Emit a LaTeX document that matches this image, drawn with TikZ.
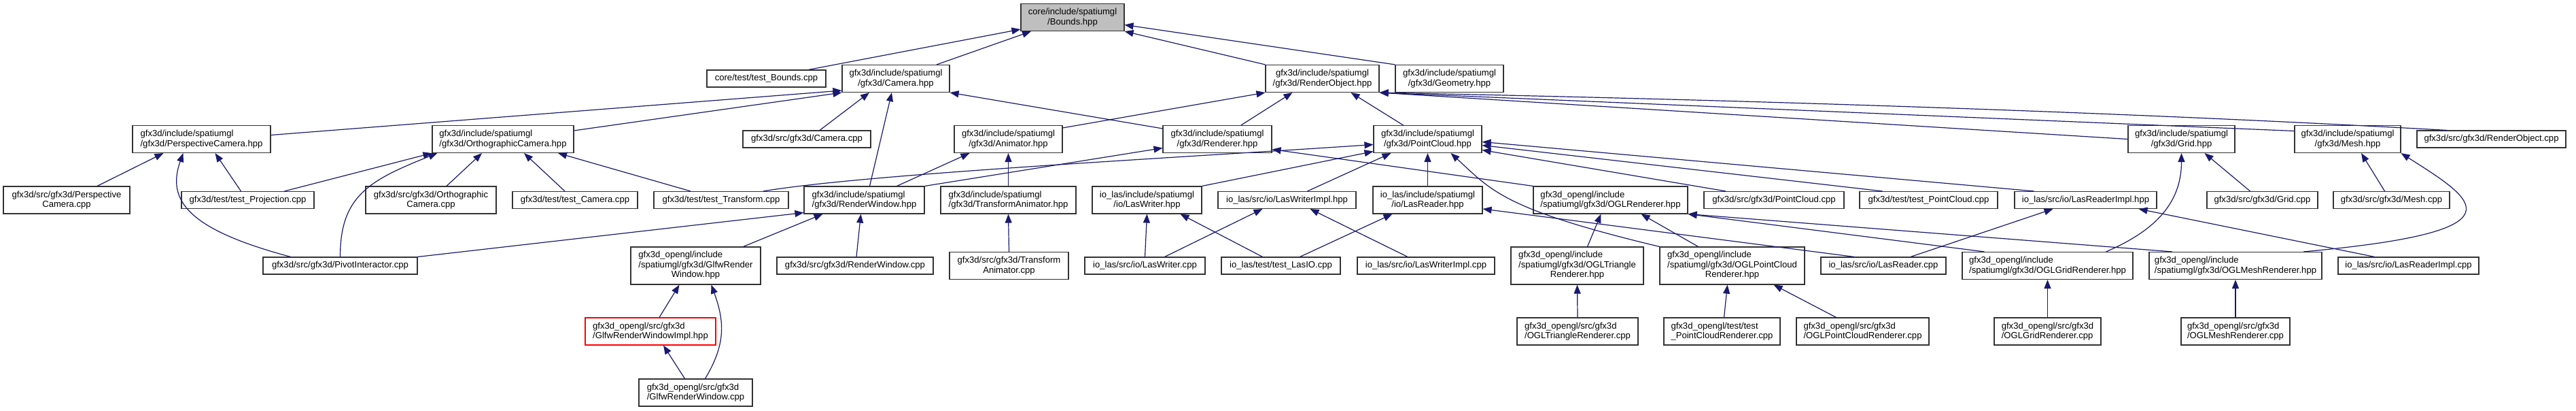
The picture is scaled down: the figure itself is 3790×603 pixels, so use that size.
\documentclass[tikz,border=0pt]{standalone}
\usepackage{fontspec}
\setmainfont{Liberation Sans}
\usepackage{tikz}
\usetikzlibrary{arrows.meta}
\definecolor{edgeblue}{HTML}{191970}
\definecolor{rootgray}{HTML}{BFBFBF}
\newcommand{\threeline}[3]{\begin{tabular}{@{}l@{}}#1\\#2\\\multicolumn{1}{@{}c@{}}{#3}\end{tabular}}

\begin{document}
\begin{tikzpicture}[x=1pt, y=-1pt,
  file/.style={draw=black!80, line width=1.1pt, fill=white, inner sep=0pt, minimum height=25pt, align=center, font=\fontsize{13.1}{14.5}\selectfont},
  tall/.style={minimum height=40pt},
  taller/.style={minimum height=55pt},
  lft/.style={align=left},
  dep/.style={edgeblue, line width=1.2pt, -{Triangle[length=13pt, width=10pt]}}]
\useasboundingbox (0,0) rectangle (3790,603);
% root
\node[file, tall, fill=rootgray, minimum width=152pt] (bounds) at (1578,25.5) {core/include/spatiumgl\\/Bounds.hpp};
% first level
\node[file, minimum width=175pt] (testbounds) at (1127.5,115.5) {core/test/test\_Bounds.cpp};
\node[file, tall, minimum width=158pt] (camH) at (1318,115.5) {gfx3d/include/spatiumgl\\/gfx3d/Camera.hpp};
\node[file, tall, minimum width=167pt] (robjH) at (1945.5,115.5) {gfx3d/include/spatiumgl\\/gfx3d/RenderObject.hpp};
\node[file, tall, minimum width=159pt] (geomH) at (2132.5,115.5) {gfx3d/include/spatiumgl\\/gfx3d/Geometry.hpp};
% second level
\node[file, tall, lft, minimum width=203pt] (perspH) at (296.5,204.5) {gfx3d/include/spatiumgl\\/gfx3d/PerspectiveCamera.hpp};
\node[file, tall, lft, minimum width=208pt] (orthoH) at (740,204.5) {gfx3d/include/spatiumgl\\/gfx3d/OrthographicCamera.hpp};
\node[file, minimum width=188pt] (camcpp) at (1187,204.5) {gfx3d/src/gfx3d/Camera.cpp};
\node[file, tall, minimum width=159pt] (animH) at (1483.5,204.5) {gfx3d/include/spatiumgl\\/gfx3d/Animator.hpp};
\node[file, tall, minimum width=160pt] (rendH) at (1791,204.5) {gfx3d/include/spatiumgl\\/gfx3d/Renderer.hpp};
\node[file, tall, minimum width=159pt] (pcH) at (2100.5,204.5) {gfx3d/include/spatiumgl\\/gfx3d/PointCloud.hpp};
\node[file, tall, minimum width=157pt] (gridH) at (3209.5,204.5) {gfx3d/include/spatiumgl\\/gfx3d/Grid.hpp};
\node[file, tall, minimum width=156pt] (meshH) at (3454,204.5) {gfx3d/include/spatiumgl\\/gfx3d/Mesh.hpp};
\node[file, minimum width=219pt] (robjcpp) at (3665.5,204.5) {gfx3d/src/gfx3d/RenderObject.cpp};
% third level
\node[file, tall, minimum width=186pt] (perspcpp) at (98,294) {gfx3d/src/gfx3d/Perspective\\Camera.cpp};
\node[file, minimum width=195pt] (projtest) at (364.5,294) {gfx3d/test/test\_Projection.cpp};
\node[file, tall, minimum width=192pt] (orthocpp) at (634,294) {gfx3d/src/gfx3d/Orthographic\\Camera.cpp};
\node[file, minimum width=184pt] (camtest) at (846,294) {gfx3d/test/test\_Camera.cpp};
\node[file, minimum width=198pt] (transftest) at (1061,294) {gfx3d/test/test\_Transform.cpp};
\node[file, tall, lft, minimum width=177pt] (rwinH) at (1271.5,294) {gfx3d/include/spatiumgl\\/gfx3d/RenderWindow.hpp};
\node[file, tall, lft, minimum width=199pt] (tanimH) at (1483.5,294) {gfx3d/include/spatiumgl\\/gfx3d/TransformAnimator.hpp};
\node[file, tall, minimum width=161pt] (lwH) at (1687.5,294) {io\_las/include/spatiumgl\\/io/LasWriter.hpp};
\node[file, minimum width=203pt] (lwiH) at (1893.5,294) {io\_las/src/io/LasWriterImpl.hpp};
\node[file, tall, minimum width=161pt] (lrH) at (2100.5,294) {io\_las/include/spatiumgl\\/io/LasReader.hpp};
\node[file, tall, lft, minimum width=227pt] (oglrH) at (2369.5,294) {gfx3d\_opengl/include\\/spatiumgl/gfx3d/OGLRenderer.hpp};
\node[file, minimum width=206pt] (pccpp) at (2610,294) {gfx3d/src/gfx3d/PointCloud.cpp};
\node[file, minimum width=203pt] (pctest) at (2837.5,294) {gfx3d/test/test\_PointCloud.cpp};
\node[file, minimum width=209pt] (lriH) at (3068.5,294) {io\_las/src/io/LasReaderImpl.hpp};
\node[file, minimum width=163pt] (gridcpp) at (3328.5,294) {gfx3d/src/gfx3d/Grid.cpp};
\node[file, minimum width=171pt] (meshcpp) at (3518.5,294) {gfx3d/src/gfx3d/Mesh.cpp};
% fourth level
\node[file, minimum width=227pt] (pivotcpp) at (500.5,390.5) {gfx3d/src/gfx3d/PivotInteractor.cpp};
\node[file, taller, minimum width=191pt] (glfwH) at (1023.5,390.5) {\threeline{gfx3d\_opengl/include}{/spatiumgl/gfx3d/GlfwRender}{Window.hpp}};
\node[file, minimum width=230pt] (rwincpp) at (1258,390.5) {gfx3d/src/gfx3d/RenderWindow.cpp};
\node[file, tall, minimum width=175pt] (tanimcpp) at (1484.5,390.5) {gfx3d/src/gfx3d/Transform\\Animator.cpp};
\node[file, minimum width=177pt] (lwcpp) at (1684.5,390.5) {io\_las/src/io/LasWriter.cpp};
\node[file, minimum width=175pt] (lasiotest) at (1884.5,390.5) {io\_las/test/test\_LasIO.cpp};
\node[file, minimum width=202pt] (lwicpp) at (2098,390.5) {io\_las/src/io/LasWriterImpl.cpp};
\node[file, taller, minimum width=195pt] (ogltriH) at (2320.5,390.5) {\threeline{gfx3d\_opengl/include}{/spatiumgl/gfx3d/OGLTriangle}{Renderer.hpp}};
\node[file, taller, minimum width=213pt] (oglpcH) at (2548.5,390.5) {\threeline{gfx3d\_opengl/include}{/spatiumgl/gfx3d/OGLPointCloud}{Renderer.hpp}};
\node[file, minimum width=184pt] (lrcpp) at (2771,390.5) {io\_las/src/io/LasReader.cpp};
\node[file, tall, lft, minimum width=251pt] (oglgridH) at (3012.5,390.5) {gfx3d\_opengl/include\\/spatiumgl/gfx3d/OGLGridRenderer.hpp};
\node[file, tall, lft, minimum width=254pt] (oglmeshH) at (3289,390.5) {gfx3d\_opengl/include\\/spatiumgl/gfx3d/OGLMeshRenderer.hpp};
\node[file, minimum width=207pt] (lricpp) at (3543.5,390.5) {io\_las/src/io/LasReaderImpl.cpp};
% fifth level
\node[file, tall, lft, draw=red, minimum width=192pt] (glfwimplH) at (957,487) {gfx3d\_opengl/src/gfx3d\\/GlfwRenderWindowImpl.hpp};
\node[file, tall, lft, minimum width=178pt] (ogltricpp) at (2321,487) {gfx3d\_opengl/src/gfx3d\\/OGLTriangleRenderer.cpp};
\node[file, tall, lft, minimum width=171pt] (pcrtest) at (2533.5,487) {gfx3d\_opengl/test/test\\\_PointCloudRenderer.cpp};
\node[file, tall, lft, minimum width=195pt] (oglpccpp) at (2740.5,487) {gfx3d\_opengl/src/gfx3d\\/OGLPointCloudRenderer.cpp};
\node[file, tall, lft, minimum width=157pt] (oglgridcpp) at (3012.5,487) {gfx3d\_opengl/src/gfx3d\\/OGLGridRenderer.cpp};
\node[file, tall, lft, minimum width=160pt] (oglmeshcpp) at (3289,487) {gfx3d\_opengl/src/gfx3d\\/OGLMeshRenderer.cpp};
% sixth level
\node[file, tall, lft, minimum width=167pt] (glfwcpp) at (1023.5,577) {gfx3d\_opengl/src/gfx3d\\/GlfwRenderWindow.cpp};
% edges into Bounds.hpp
\draw[dep] ([xshift=62pt]testbounds.north) -- ([yshift=3pt]bounds.south west);
\draw[dep] ([xshift=60pt]camH.north) -- ([xshift=-61pt]bounds.south);
\draw[dep] (robjH.north west) -- (bounds.south east);
\draw[dep] (geomH.north west) -- ([yshift=-11pt]bounds.east);
% edges into Camera.hpp
\draw[dep] ([yshift=6pt]perspH.east) -- ([yshift=3pt]camH.south west);
\draw[dep] ([yshift=-8pt]orthoH.north east) -- (camH.south west);
\draw[dep] ([xshift=19pt]camcpp.north) -- ([xshift=-39pt]camH.south);
\draw[dep] ([xshift=8pt]rwinH.north) -- ([xshift=-6pt]camH.south);
\draw[dep] ([yshift=-5pt]rendH.north west) -- (camH.south east);
% edges into RenderObject.hpp
\draw[dep] ([yshift=-4pt]animH.north east) -- (robjH.south west);
\draw[dep] ([xshift=35pt]rendH.north) -- ([xshift=-44pt]robjH.south);
\draw[dep] ([xshift=-36pt]pcH.north) -- ([xshift=42pt]robjH.south);
\draw[dep] (gridH.west) -- (robjH.south east);
\draw[dep] ([yshift=12pt]meshH.west) -- (robjH.south east);
\draw[dep] ([xshift=-65pt]robjcpp.north) .. controls +(-500,-28) and +(500,10) .. (robjH.south east);
% edges into the camera headers
\draw[dep] ([xshift=45pt]perspcpp.north) -- ([xshift=-56pt]perspH.south);
\draw[dep] ([xshift=-10pt]projtest.north) -- ([xshift=20pt]perspH.south);
\draw[dep] ([xshift=-73pt]pivotcpp.north) .. controls +(-150,-40) and +(-25,70) .. ([xshift=-27pt]perspH.south);
\draw[dep] ([xshift=54pt]projtest.north) -- (orthoH.south west);
\draw[dep] (pivotcpp.north) .. controls +(0,-90) and +(-100,40) .. ([xshift=8pt]orthoH.south west);
\draw[dep] ([xshift=23pt]orthocpp.north) -- ([xshift=-31pt]orthoH.south);
\draw[dep] ([xshift=-15pt]camtest.north) -- ([xshift=31pt]orthoH.south);
\draw[dep] ([xshift=-45pt]transftest.north) -- ([xshift=81pt]orthoH.south);
% edges into Animator.hpp and Renderer.hpp
\draw[dep] ([xshift=48pt]rwinH.north) -- ([xshift=-57pt]animH.south);
\draw[dep] (tanimH.north) -- (animH.south);
\draw[dep] (rwinH.north east) -- ([yshift=-13pt]rendH.west);
\draw[dep] (oglrH.north west) -- ([yshift=-15pt]rendH.east);
% edges into PointCloud.hpp
\draw[dep] ([xshift=62pt]transftest.north) .. controls +(150,-25) and +(-300,20) .. ([yshift=-8pt]pcH.west);
\draw[dep] (lwH.north east) -- ([yshift=-18pt]pcH.west);
\draw[dep] ([xshift=30pt]lwiH.north) -- ([xshift=-54pt]pcH.south);
\draw[dep] (lrH.north) -- (pcH.south);
\draw[dep] (oglpcH.north west) .. controls +(-230,-55) and +(60,55) .. ([xshift=34pt]pcH.south);
\draw[dep] ([xshift=-71pt]pccpp.north) -- ([yshift=-16pt]pcH.east);
\draw[dep] ([xshift=-68pt]pctest.north) -- ([yshift=-9pt]pcH.east);
\draw[dep] ([xshift=-76pt]lriH.north) -- ([yshift=-4pt]pcH.east);
% edges into Grid.hpp and Mesh.hpp
\draw[dep] ([xshift=-18pt]gridcpp.north) -- ([xshift=34pt]gridH.south);
\draw[dep] ([xshift=86pt]oglgridH.north) .. controls +(70,-30) and +(0,75) .. (gridH.south);
\draw[dep] ([xshift=-10pt]meshcpp.north) -- ([xshift=20pt]meshH.south);
\draw[dep] ([xshift=100pt]oglmeshH.north) .. controls +(330,-30) and +(110,70) .. (meshH.south east);
% edges into RenderWindow.hpp
\draw[dep] (pivotcpp.north east) -- ([yshift=2pt]rwinH.south west);
\draw[dep] ([xshift=70pt]glfwH.north) -- ([xshift=-61pt]rwinH.south);
\draw[dep] ([xshift=2pt]rwincpp.north) -- ([xshift=-5pt]rwinH.south);
\draw[dep] (tanimcpp.north) -- (tanimH.south);
% io_las edges
\draw[dep] (lwcpp.north) -- (lwH.south);
\draw[dep] ([xshift=-27pt]lasiotest.north) -- ([xshift=49pt]lwH.south);
\draw[dep] ([xshift=29pt]lwcpp.north) -- ([xshift=-36pt]lwiH.south);
\draw[dep] ([xshift=-27pt]lwicpp.north) -- ([xshift=34pt]lwiH.south);
\draw[dep] ([xshift=28pt]lasiotest.north) -- ([xshift=-52pt]lrH.south);
\draw[dep] ([xshift=-43pt]lrcpp.north) -- ([yshift=-13pt]lrH.east);
\draw[dep] ([xshift=40pt]lrcpp.north) -- ([xshift=-48pt]lriH.south);
\draw[dep] ([xshift=-50pt]lricpp.north) -- ([xshift=78pt]lriH.south);
% edges into OGLRenderer.hpp
\draw[dep] ([xshift=15pt]ogltriH.north) -- ([xshift=-14pt]oglrH.south);
\draw[dep] ([xshift=-50pt]oglpcH.north) -- ([xshift=45pt]oglrH.south);
\draw[dep] ([xshift=-93pt]oglgridH.north) -- (oglrH.south east);
\draw[dep] ([xshift=-93pt]oglmeshH.north) -- (oglrH.south east);
% glfw window
\draw[dep] ([xshift=13pt]glfwimplH.north) -- ([xshift=-24pt]glfwH.south);
\draw[dep] ([xshift=-16pt]glfwcpp.north) -- ([xshift=19pt]glfwimplH.south);
\draw[dep] ([xshift=14pt]glfwcpp.north) .. controls +(30,-50) and +(20,55) .. ([xshift=23pt]glfwH.south);
% renderer sources
\draw[dep] (ogltricpp.north) -- (ogltriH.south);
\draw[dep] ([xshift=3pt]pcrtest.north) -- ([xshift=-7pt]oglpcH.south);
\draw[dep] ([xshift=-39pt]oglpccpp.north) -- ([xshift=61pt]oglpcH.south);
\draw[dep] (oglgridcpp.north) -- (oglgridH.south);
\draw[dep] (oglmeshcpp.north) -- (oglmeshH.south);
\end{tikzpicture}
\end{document}
